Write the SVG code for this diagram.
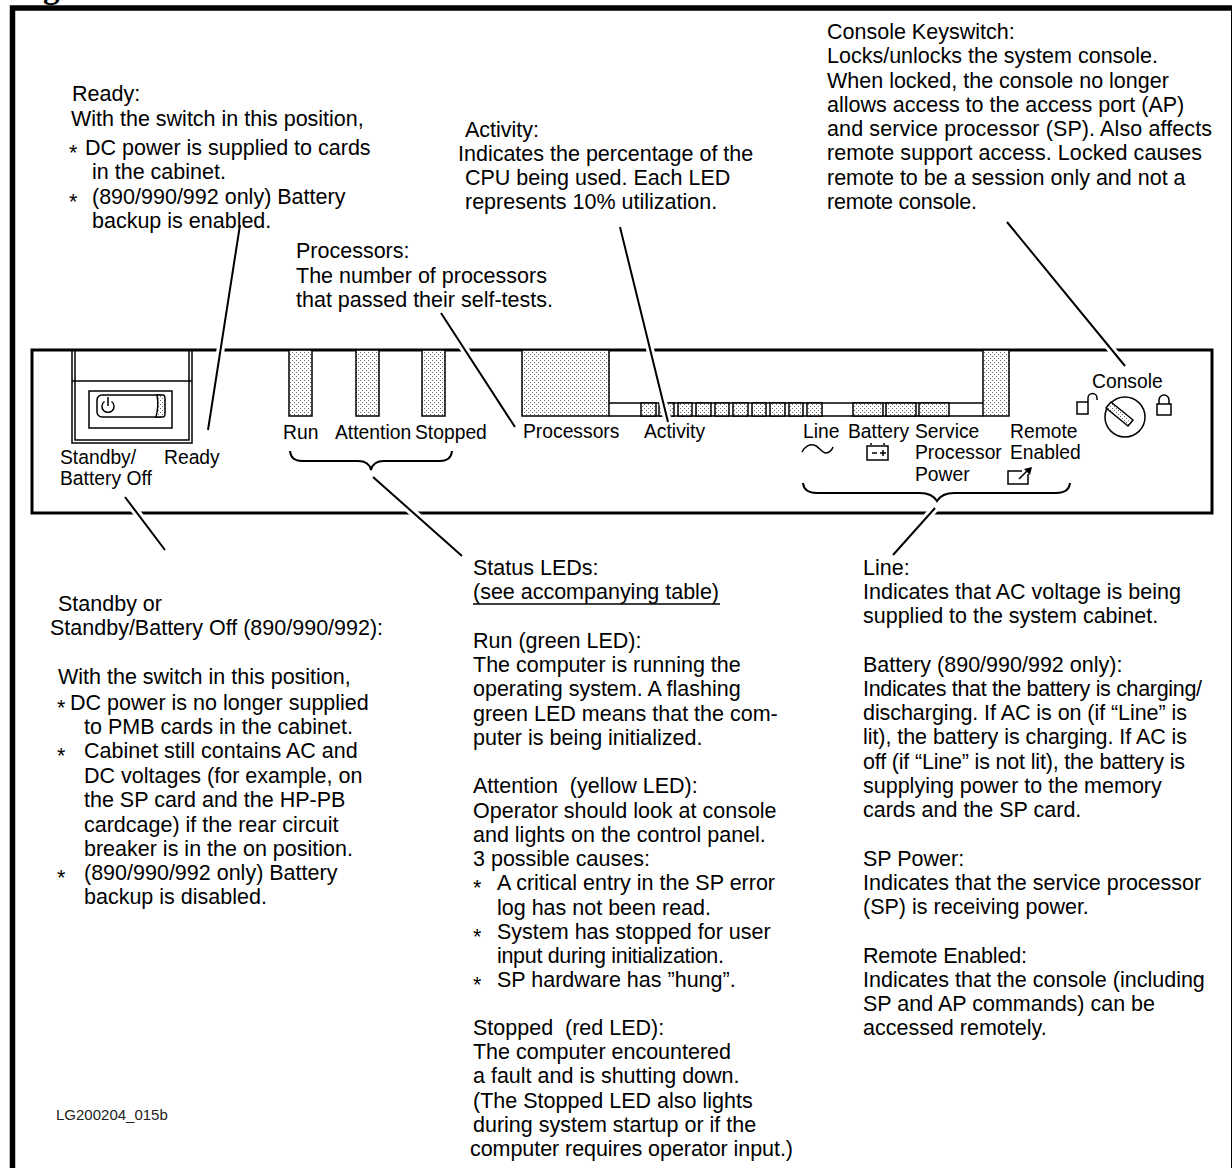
<svg xmlns="http://www.w3.org/2000/svg" width="1232" height="1168" viewBox="0 0 1232 1168">
<defs>
<pattern id="dots" width="4" height="4" patternUnits="userSpaceOnUse"><rect width="4" height="4" fill="#fff"/><rect x="0" y="0" width="1" height="1" fill="#666"/><rect x="2" y="2" width="1" height="1" fill="#666"/></pattern>
</defs>
<style>
text{font-family:"Liberation Sans",Arial,sans-serif;font-size:21.5px;fill:#000}
.p{font-size:19.3px}
.l{fill:none;stroke:#000;stroke-width:1.5}
.b{fill:none;stroke:#000;stroke-width:2}
.h{fill:none;stroke:#fff;stroke-width:8}
.c{fill:none;stroke:#000;stroke-width:2}
.d{fill:url(#dots);stroke:#000;stroke-width:1.5}
</style>
<rect width="1232" height="1168" fill="#fff"/>
<text x="43" y="-2.500" style="font-family:'Liberation Serif',serif;font-weight:bold;font-size:33px">g</text>
<path d="M12.500 1168V8H1232" fill="none" stroke="#000" stroke-width="5.500"/>
<path d="M1231.500 8V1168" fill="none" stroke="#000" stroke-width="1"/>
<g id="panel">
<rect x="32" y="350" width="1180" height="163" fill="#fff" stroke="#000" stroke-width="3"/>
</g>
<g id="switch">
<rect class="l" x="72" y="350" width="120" height="93"/><path class="l" d="M75 350V440H189V350M72 381H192"/>
<rect class="l" x="89" y="391" width="83" height="37"/>
<rect class="l" x="97" y="395" width="67" height="22" rx="5"/>
<path class="d" d="M157 395h6q2 0 2 4v14q0 4-2 4h-7q3-11 1-22z"/>
<path class="l" d="M104.500 401.500a6 6 0 1 0 7 0M108 397v9"/>
<text class="p" x="60" y="464">Standby/</text><text class="p" x="60" y="485">Battery Off</text><text class="p" x="164" y="464">Ready</text>
</g>
<g id="status-leds">
<rect class="d" x="289" y="350" width="23" height="66"/><rect class="d" x="356" y="350" width="23" height="66"/><rect class="d" x="422" y="350" width="23" height="66"/>
<text class="p" x="283" y="439">Run</text><text class="p" x="335" y="439">Attention</text><text class="p" x="415" y="439">Stopped</text>
<path class="b" d="M290 451q1 10 12 10H358q11 0 13 9q2-9 13-9H440q11 0 12-10"/>
</g>
<g id="display">
<rect class="d" x="522" y="350" width="87" height="66"/>
<path class="l" d="M609 403H983M609 416H983"/>
<rect class="d" x="983" y="350" width="26" height="66"/>
<rect class="d" x="641" y="403" width="15" height="13"/><rect class="d" x="659" y="403" width="15" height="13"/><rect class="d" x="678" y="403" width="14" height="13"/><rect class="d" x="696" y="403" width="15" height="13"/><rect class="d" x="715" y="403" width="14" height="13"/><rect class="d" x="733" y="403" width="15" height="13"/><rect class="d" x="752" y="403" width="14" height="13"/><rect class="d" x="770" y="403" width="15" height="13"/><rect class="d" x="789" y="403" width="14" height="13"/><rect class="d" x="807" y="403" width="15" height="13"/>
<rect class="d" x="853" y="403" width="30" height="13"/><rect class="d" x="886" y="403" width="30" height="13"/><rect class="d" x="919" y="403" width="30" height="13"/>
<text class="p" x="523" y="438">Processors</text><text class="p" x="644" y="438">Activity</text>
<text class="p" x="803" y="438">Line</text><text class="p" x="848" y="438">Battery</text>
<text class="p" x="915" y="438">Service</text><text class="p" x="915" y="459">Processor</text><text class="p" x="915" y="481">Power</text>
<text class="p" x="1010" y="438">Remote</text><text class="p" x="1010" y="459">Enabled</text>
<path class="l" d="M802 452C805 446 810 444 814 445C819 446 821 453 826 453C829 453 832 450 833 447"/>
<path class="l" d="M867 446H888V460H867ZM871 445V443M884 445V443M872 453h5M880 453h6M883 450v6"/>
<path class="l" d="M1028 474V484H1008V471H1022M1019 479L1029 469"/><path d="M1032 467L1024 469L1030 475Z"/>
<path class="b" d="M803 483q1 10 14 10H920q12 0 17 8q5-8 17-8H1056q13 0 14-10"/>
</g>
<g id="console">
<text class="p" x="1092" y="388">Console</text>
<path class="l" d="M1077 402H1088V414H1077ZM1088 402V398a4 4 0 0 1 9 0v2M1157 404H1171V415H1157ZM1159 404V400a5 5 0 0 1 10 0v4"/>
<circle class="l" cx="1125" cy="417" r="20"/>
<path class="d" d="M1111 402L1133 420L1128 426L1106 408Z"/>
</g>
<g id="connectors">
<path class="h" d="M240 225L208 430M441 313L515 427M620 227L668 422M1007 222L1125 366M125 497L165 550M373 477L462 556M935 508L893 555"/>
<path class="c" d="M240 225L208 430M441 313L515 427M620 227L668 422M1007 222L1125 366M125 497L165 550M373 477L462 556M935 508L893 555"/>
</g>
<g id="ready-note">
<text x="72" y="101">Ready:</text><text x="71" y="126">With the switch in this position,</text>
<text x="69" y="160">*</text><text x="85" y="155">DC power is supplied to cards</text><text x="92" y="179">in the cabinet.</text>
<text x="69" y="209">*</text><text x="92" y="204">(890/990/992 only) Battery</text><text x="92" y="228">backup is enabled.</text>
</g>
<g id="processors-note">
<text x="296" y="258">Processors:</text><text x="296" y="283">The number of processors</text><text x="296" y="307">that passed their self-tests.</text>
</g>
<g id="activity-note">
<text x="465" y="137">Activity:</text><text x="458" y="161">Indicates the percentage of the</text><text x="465" y="185">CPU being used. Each LED</text><text x="465" y="209">represents 10% utilization.</text>
</g>
<g id="console-note">
<text x="827" y="39">Console Keyswitch:</text><text x="827" y="63">Locks/unlocks the system console.</text><text x="827" y="88">When locked, the console no longer</text><text x="827" y="112">allows access to the access port (AP)</text><text x="827" y="136" textLength="385">and service processor (SP). Also affects</text><text x="827" y="160" textLength="375">remote support access. Locked causes</text><text x="827" y="185">remote to be a session only and not a</text><text x="827" y="209" textLength="150">remote console.</text>
</g>
<g id="standby-note">
<text x="58" y="611">Standby or</text><text x="50" y="635">Standby/Battery Off (890/990/992):</text>
<text x="58" y="684">With the switch in this position,</text>
<text x="57" y="715">*</text><text x="70" y="710">DC power is no longer supplied</text><text x="84" y="734">to PMB cards in the cabinet.</text>
<text x="57" y="763">*</text><text x="84" y="758">Cabinet still contains AC and</text><text x="84" y="783">DC voltages (for example, on</text><text x="84" y="807">the SP card and the HP-PB</text><text x="84" y="832">cardcage) if the rear circuit</text><text x="84" y="856">breaker is in the on position.</text>
<text x="57" y="885">*</text><text x="84" y="880">(890/990/992 only) Battery</text><text x="84" y="904">backup is disabled.</text>
<text x="56" y="1120" style="font-size:15px;fill:#222">LG200204_015b</text>
</g>
<g id="status-note">
<text x="473" y="575">Status LEDs:</text><text x="473" y="599" textLength="246">(see accompanying table)</text><path class="l" d="M473 604H720"/>
<text x="473" y="648">Run (green LED):</text><text x="473" y="672">The computer is running the</text><text x="473" y="696">operating system. A flashing</text><text x="473" y="721">green LED means that the com-</text><text x="473" y="745">puter is being initialized.</text>
<text x="473" y="793" xml:space="preserve">Attention  (yellow LED):</text><text x="473" y="818">Operator should look at console</text><text x="473" y="842">and lights on the control panel.</text><text x="473" y="866">3 possible causes:</text>
<text x="473" y="895">*</text><text x="497" y="890">A critical entry in the SP error</text><text x="497" y="915">log has not been read.</text>
<text x="473" y="944">*</text><text x="497" y="939">System has stopped for user</text><text x="497" y="963" textLength="227">input during initialization.</text>
<text x="473" y="992">*</text><text x="497" y="987">SP hardware has ”hung”.</text>
<text x="473" y="1035" xml:space="preserve">Stopped  (red LED):</text><text x="473" y="1059" textLength="258">The computer encountered</text><text x="473" y="1083">a fault and is shutting down.</text><text x="473" y="1108">(The Stopped LED also lights</text><text x="473" y="1132">during system startup or if the</text><text x="470" y="1156" textLength="323">computer requires operator input.)</text>
</g>
<g id="line-note">
<text x="863" y="575">Line:</text><text x="863" y="599">Indicates that AC voltage is being</text><text x="863" y="623">supplied to the system cabinet.</text>
<text x="863" y="672">Battery (890/990/992 only):</text><text x="863" y="696" textLength="339">Indicates that the battery is charging/</text><text x="863" y="720" textLength="324">discharging. If AC is on (if “Line” is</text><text x="863" y="744" textLength="324">lit), the battery is charging. If AC is</text><text x="863" y="769" textLength="322">off (if “Line” is not lit), the battery is</text><text x="863" y="793">supplying power to the memory</text><text x="863" y="817">cards and the SP card.</text>
<text x="863" y="866">SP Power:</text><text x="863" y="890">Indicates that the service processor</text><text x="863" y="914">(SP) is receiving power.</text>
<text x="863" y="963" textLength="164">Remote Enabled:</text><text x="863" y="987">Indicates that the console (including</text><text x="863" y="1011">SP and AP commands) can be</text><text x="863" y="1035">accessed remotely.</text>
</g>
</svg>
